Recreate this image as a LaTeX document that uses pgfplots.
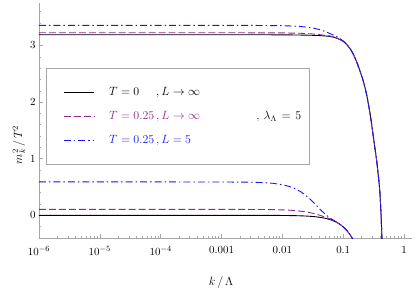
\documentclass[border=0pt]{standalone}
\usepackage{pgfplots}
\pgfplotsset{compat=1.18}
\definecolor{mpurple}{rgb}{0.56,0.16,0.56}
\definecolor{mblue}{rgb}{0.08,0.08,1}
\begin{document}
\begin{tikzpicture}
\useasboundingbox (-39bp,-56bp) rectangle (376bp,238bp);
\begin{axis}[
 at={(0,0)}, anchor=south west,
 scale only axis, width=373bp, height=235bp,
 xmode=log, xmin=1e-6, xmax=1.35, ymin=-0.4, ymax=3.75,
 axis lines*=left,
 axis line style={gray!70, line width=0.6pt},
 tick align=inside,
 major tick length=4.5bp, minor tick length=2.5bp,
 every tick/.style={gray!70, line width=0.5pt},
 xtick={1e-6,1e-5,1e-4,1e-3,1e-2,1e-1,1},
 xticklabels={$10^{-6}$,$10^{-5}$,$10^{-4}$,$0.001$,$0.01$,$0.1$,$1$},
 minor xtick={2e-6,3e-6,4e-6,5e-6,6e-6,7e-6,8e-6,9e-6,
   2e-5,3e-5,4e-5,5e-5,6e-5,7e-5,8e-5,9e-5,
   2e-4,3e-4,4e-4,5e-4,6e-4,7e-4,8e-4,9e-4,
   2e-3,3e-3,4e-3,5e-3,6e-3,7e-3,8e-3,9e-3,
   2e-2,3e-2,4e-2,5e-2,6e-2,7e-2,8e-2,9e-2,
   0.2,0.3,0.4,0.5,0.6,0.7,0.8,0.9},
 ytick={0,1,2,3},
 minor ytick={-0.2,0.2,0.4,0.6,0.8,1.2,1.4,1.6,1.8,2.2,2.4,2.6,2.8,3.2,3.4,3.6},
 tick label style={font=\fontsize{11}{13}\selectfont},
 x tick label style={yshift=-5bp},
 xlabel={$k\,/\,\Lambda$},
 ylabel={$m_k^2\,/\,T^2$},
 label style={font=\fontsize{12}{14}\selectfont},
 xlabel style={at={(axis description cs:0.488,-0.1915)}, anchor=center},
 ylabel style={at={(axis description cs:-0.0536,0.396)}, anchor=center},
 legend style={at={(axis description cs:0.0188,0.7234)}, anchor=north west,
   draw=gray!70, line width=0.6pt, inner xsep=17bp, inner ysep=12bp,
   nodes={inner sep=0pt, minimum height=24bp},
   font=\fontsize{11.8}{14}\selectfont, row sep=0pt},
 legend cell align=left,
 legend image code/.code={\draw[#1, line width=0.9pt] (0bp,0bp) -- (30bp,0bp); \path (45bp,0bp);},
]
% lower set
\addplot[black, line width=0.9pt] coordinates {
(1e-6,0) (1e-4,0) (1e-3,0) (0.003,-0.0002) (0.005,-0.0005) (0.007,-0.001) (0.01,-0.002) (0.015,-0.0046) (0.02,-0.0082) (0.025,-0.0128) (0.03,-0.0184) (0.035,-0.025) (0.04,-0.0326) (0.045,-0.0413) (0.05,-0.051) (0.055,-0.0617) (0.06,-0.0734) (0.065,-0.0862) (0.07,-0.1) (0.075,-0.1148) (0.08,-0.1306) (0.085,-0.1474) (0.09,-0.165) (0.095,-0.1841) (0.1,-0.204) (0.11,-0.247) (0.12,-0.294) (0.13,-0.345) (0.14,-0.4) (0.15,-0.459)};
\addlegendentry{{\makebox[183bp][l]{\rlap{$T=0$}\phantom{$T=0.25\,$}$,L\to\infty$}}}
\addplot[mpurple, line width=0.9pt, dash pattern=on 7pt off 3pt] coordinates {
(1e-6,0.105) (1e-4,0.105) (1e-3,0.1049) (0.003,0.1042) (0.005,0.1029) (0.007,0.1008) (0.01,0.0966) (0.013,0.0911) (0.016,0.0843) (0.02,0.0736) (0.025,0.0583) (0.03,0.0414) (0.035,0.0238) (0.04,0.006) (0.045,-0.0117) (0.05,-0.029) (0.055,-0.0458) (0.06,-0.0624) (0.065,-0.0787) (0.07,-0.0951) (0.08,-0.1287) (0.09,-0.1643) (0.1,-0.2038) (0.11,-0.247) (0.12,-0.294) (0.13,-0.345) (0.14,-0.4) (0.15,-0.459)};
\addlegendentry{{\makebox[183bp][l]{\textcolor{mpurple}{$T=0.25\,,L\to\infty$}\hfill$,$\hspace{4bp}$\lambda_\Lambda\mkern2mu=\mkern2mu5$\kern-9bp}}}
\addplot[mblue, line width=0.9pt, dash pattern=on 7pt off 3pt on 1.5pt off 3pt] coordinates {
(1e-6,0.59) (1e-4,0.59) (1e-3,0.5895) (0.003,0.5855) (0.005,0.5776) (0.007,0.5659) (0.01,0.5417) (0.013,0.5105) (0.016,0.4735) (0.02,0.4174) (0.025,0.3414) (0.03,0.2646) (0.035,0.1921) (0.04,0.1272) (0.045,0.0717) (0.05,0.0257) (0.055,-0.0117) (0.06,-0.0422) (0.065,-0.0674) (0.07,-0.0892) (0.08,-0.1274) (0.09,-0.1642) (0.1,-0.2036) (0.11,-0.247) (0.12,-0.294) (0.13,-0.345) (0.14,-0.4) (0.15,-0.459)};
\addlegendentry{{\makebox[183bp][l]{\textcolor{mblue}{$T=0.25\,,L=5$}}}}
% upper set
\addplot[black, line width=0.9pt, forget plot] coordinates {
(1e-6,3.19) (1e-3,3.19) (0.01,3.188) (0.02,3.184) (0.03,3.18) (0.04,3.175) (0.05,3.168) (0.06,3.16) (0.07,3.145) (0.08,3.125) (0.09,3.10) (0.1,3.072) (0.11,3.035) (0.12,2.99) (0.135,2.915) (0.1476,2.84) (0.165,2.72) (0.19,2.54) (0.21,2.40) (0.229,2.25) (0.245,2.11) (0.26,1.96) (0.275,1.81) (0.288,1.67) (0.30,1.53) (0.314,1.37) (0.328,1.23) (0.343,1.08) (0.357,0.94) (0.37,0.79) (0.383,0.64) (0.394,0.50) (0.403,0.36) (0.41,0.21) (0.417,0.05) (0.423,-0.1) (0.428,-0.25) (0.433,-0.42)};
\addplot[mpurple, line width=0.9pt, dash pattern=on 7pt off 3pt, forget plot] coordinates {
(1e-6,3.225) (1e-3,3.225) (0.01,3.222) (0.02,3.215) (0.03,3.205) (0.04,3.192) (0.05,3.18) (0.06,3.168) (0.07,3.15) (0.08,3.127) (0.09,3.101) (0.1,3.072) (0.11,3.035) (0.12,2.99) (0.135,2.915) (0.1476,2.84) (0.165,2.72) (0.19,2.54) (0.21,2.40) (0.229,2.25) (0.245,2.11) (0.26,1.96) (0.275,1.81) (0.288,1.67) (0.30,1.53) (0.314,1.37) (0.328,1.23) (0.343,1.08) (0.357,0.94) (0.37,0.79) (0.383,0.64) (0.394,0.50) (0.403,0.36) (0.41,0.21) (0.417,0.05) (0.423,-0.1) (0.428,-0.25) (0.433,-0.42)};
\addplot[mblue, line width=0.9pt, dash pattern=on 7pt off 3pt on 1.5pt off 3pt, forget plot] coordinates {
(1e-6,3.355) (1e-3,3.355) (0.003,3.354) (0.005,3.353) (0.01,3.349) (0.015,3.343) (0.02,3.335) (0.025,3.324) (0.03,3.312) (0.035,3.298) (0.04,3.283) (0.045,3.266) (0.05,3.248) (0.055,3.23) (0.06,3.212) (0.07,3.18) (0.08,3.15) (0.09,3.115) (0.1,3.08) (0.11,3.04) (0.12,2.993) (0.135,2.915) (0.1476,2.84) (0.165,2.72) (0.19,2.54) (0.21,2.40) (0.229,2.25) (0.245,2.11) (0.26,1.96) (0.275,1.81) (0.288,1.67) (0.30,1.53) (0.314,1.37) (0.328,1.23) (0.343,1.08) (0.357,0.94) (0.37,0.79) (0.383,0.64) (0.394,0.50) (0.403,0.36) (0.41,0.21) (0.417,0.05) (0.423,-0.1) (0.428,-0.25) (0.433,-0.42)};
\end{axis}
\end{tikzpicture}
\end{document}
